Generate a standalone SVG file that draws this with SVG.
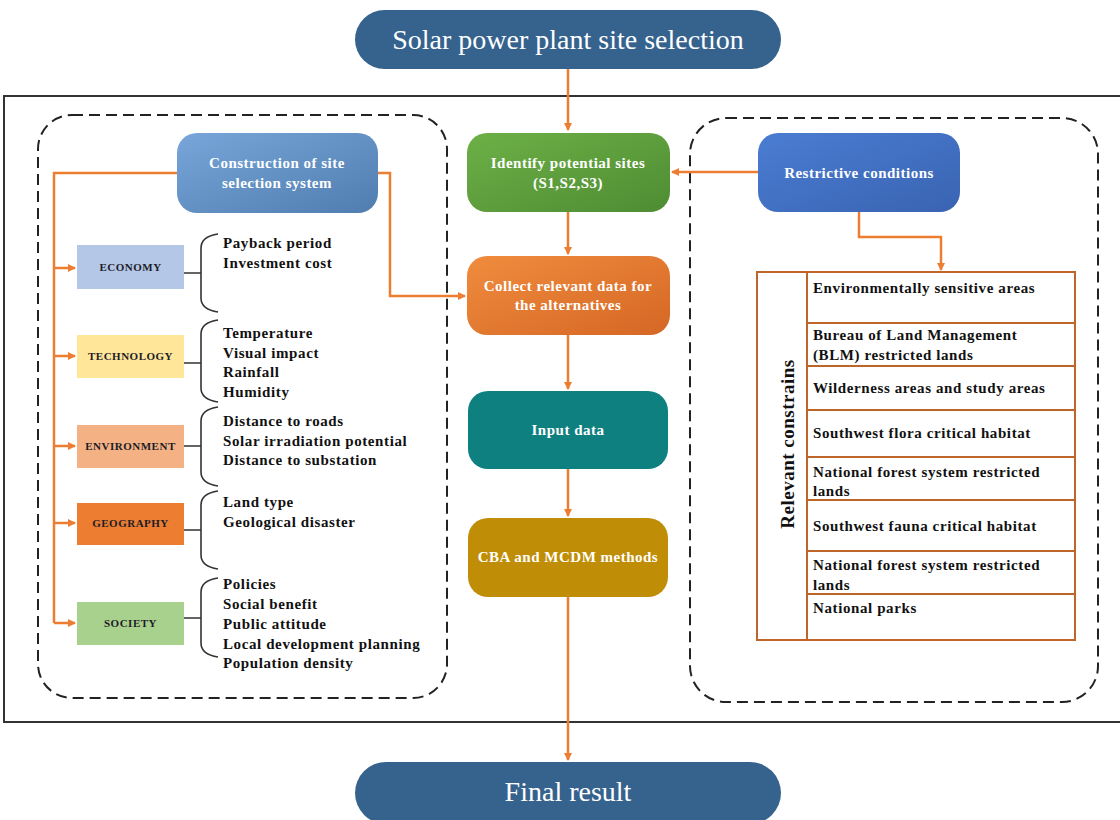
<svg xmlns="http://www.w3.org/2000/svg" width="1120" height="820" viewBox="0 0 1120 820">
<style>
.pill{fill:#36638E}
.pilltxt{font-family:"Liberation Serif","Times New Roman",serif;fill:#fff;text-anchor:middle}
.btxt{font-family:"Liberation Serif","Times New Roman",serif;font-weight:bold;font-size:15px;fill:#fff;text-anchor:middle;letter-spacing:0.5px}
.cat{font-family:"Liberation Serif","Times New Roman",serif;font-weight:bold;font-size:11px;fill:#1c1c28;text-anchor:middle;letter-spacing:0.5px}
.item{font-family:"Liberation Serif","Times New Roman",serif;font-weight:bold;font-size:15px;fill:#111;letter-spacing:0.6px}
.dash{fill:none;stroke:#222;stroke-width:2;stroke-dasharray:11 6}
.conn{fill:none;stroke:#ED7D31;stroke-width:2.5}
.brace{fill:none;stroke:#333;stroke-width:1.6}
.tbl{fill:none;stroke:#C0652A;stroke-width:2}
</style>
<defs>
<marker id="arr" markerWidth="8" markerHeight="8" refX="7" refY="4" orient="auto" markerUnits="userSpaceOnUse">
<path d="M0,0 L8,4 L0,8 Z" fill="#ED7D31"/>
</marker>
<linearGradient id="gBlue" x1="0" y1="0" x2="1" y2="1"><stop offset="0" stop-color="#78A6DA"/><stop offset="1" stop-color="#4F7DAF"/></linearGradient>
<linearGradient id="gGreen" x1="0" y1="0" x2="1" y2="1"><stop offset="0" stop-color="#6DB046"/><stop offset="1" stop-color="#4E8C33"/></linearGradient>
<linearGradient id="gOrange" x1="0" y1="0" x2="1" y2="1"><stop offset="0" stop-color="#F08C3E"/><stop offset="1" stop-color="#D56724"/></linearGradient>
<linearGradient id="gRestr" x1="0" y1="0" x2="1" y2="1"><stop offset="0" stop-color="#4A7DD2"/><stop offset="1" stop-color="#3A63B2"/></linearGradient>
</defs>
<rect width="1120" height="820" fill="#fff"/>

<!-- outer frame -->
<rect x="4" y="96" width="1130" height="626" fill="none" stroke="#333" stroke-width="2"/>
<!-- dashed groups -->
<rect class="dash" x="38" y="115" width="409" height="583" rx="34"/>
<rect class="dash" x="690" y="118" width="408" height="584" rx="36"/>

<g id="connectors">
<path class="conn" d="M568,69 V130" marker-end="url(#arr)"/>
<path class="conn" d="M568,212 V254" marker-end="url(#arr)"/>
<path class="conn" d="M568,335 V389" marker-end="url(#arr)"/>
<path class="conn" d="M568,469 V516" marker-end="url(#arr)"/>
<path class="conn" d="M568,597 V760" marker-end="url(#arr)"/>
<path class="conn" d="M758,172 H672" marker-end="url(#arr)"/>
<path class="conn" d="M859,212 V237 H941 V270" marker-end="url(#arr)"/>
<path class="conn" d="M378,173 H390 V296 H465" marker-end="url(#arr)"/>
<path class="conn" d="M177,173 H54 V623"/>
<path class="conn" d="M54,268 H75" marker-end="url(#arr)"/>
<path class="conn" d="M54,356 H75" marker-end="url(#arr)"/>
<path class="conn" d="M54,446 H75" marker-end="url(#arr)"/>
<path class="conn" d="M54,523 H75" marker-end="url(#arr)"/>
<path class="conn" d="M54,623 H75" marker-end="url(#arr)"/>
</g>

<g id="n-top">
<rect class="pill" x="355" y="10" width="426" height="59" rx="29.5"/>
<text class="pilltxt" x="568" y="49" font-size="28">Solar power plant site selection</text>
</g>

<g id="n-final">
<rect class="pill" x="355" y="762" width="426" height="62" rx="31"/>
<text class="pilltxt" x="568" y="801" font-size="28">Final result</text>
</g>

<g id="n-construction">
<rect x="177" y="133" width="201" height="80" rx="20" fill="url(#gBlue)"/>
<text class="btxt" x="277" y="168">Construction of site</text>
<text class="btxt" x="277" y="188">selection system</text>
</g>

<g id="n-identify">
<rect x="467" y="133" width="203" height="79" rx="20" fill="url(#gGreen)"/>
<text class="btxt" x="568" y="168">Identify potential sites</text>
<text class="btxt" x="568" y="188">(S1,S2,S3)</text>
</g>

<g id="n-collect">
<rect x="467" y="256" width="203" height="79" rx="20" fill="url(#gOrange)"/>
<text class="btxt" x="568" y="291">Collect relevant data for</text>
<text class="btxt" x="568" y="310">the alternatives</text>
</g>

<g id="n-input">
<rect x="468" y="391" width="200" height="78" rx="20" fill="#0F8080"/>
<text class="btxt" x="568" y="435">Input data</text>
</g>

<g id="n-cba">
<rect x="468" y="518" width="200" height="79" rx="20" fill="#C08E06"/>
<text class="btxt" x="568" y="562">CBA and MCDM methods</text>
</g>

<g id="n-restrictive">
<rect x="758" y="133" width="202" height="79" rx="20" fill="url(#gRestr)"/>
<text class="btxt" x="859" y="178">Restrictive conditions</text>
</g>

<g id="n-economy">
<rect x="77" y="245" width="107" height="44" fill="#B4C7E7"/>
<text class="cat" x="130.5" y="271">ECONOMY</text>
<path class="brace" d="M184,273 H201 M218,234 C205,236 201,242 201,248 L201,298 C201,304 205,310 218,312"/>
<text class="item" x="223" y="248">Payback period</text>
<text class="item" x="223" y="268">Investment cost</text>
</g>

<g id="n-technology">
<rect x="77" y="335" width="107" height="43" fill="#FFE699"/>
<text class="cat" x="130.5" y="360">TECHNOLOGY</text>
<path class="brace" d="M184,363 H201 M218,320 C205,322 201,328 201,334 L201,388 C201,394 205,400 218,402"/>
<text class="item" x="223" y="338">Temperature</text>
<text class="item" x="223" y="358">Visual impact</text>
<text class="item" x="223" y="377">Rainfall</text>
<text class="item" x="223" y="397">Humidity</text>
</g>

<g id="n-environment">
<rect x="77" y="425" width="107" height="43" fill="#F4B183"/>
<text class="cat" x="130.5" y="450">ENVIRONMENT</text>
<path class="brace" d="M184,446 H201 M218,407 C205,409 201,415 201,421 L201,472 C201,478 205,484 218,486"/>
<text class="item" x="223" y="426">Distance to roads</text>
<text class="item" x="223" y="446">Solar irradiation potential</text>
<text class="item" x="223" y="465">Distance to substation</text>
</g>

<g id="n-geography">
<rect x="77" y="503" width="107" height="42" fill="#ED7D31"/>
<text class="cat" x="130.5" y="527">GEOGRAPHY</text>
<path class="brace" d="M184,530 H201 M218,491 C205,493 201,499 201,505 L201,555 C201,561 205,567 218,569"/>
<text class="item" x="223" y="507">Land type</text>
<text class="item" x="223" y="527">Geological disaster</text>
</g>

<g id="n-society">
<rect x="77" y="602" width="107" height="43" fill="#A9D18E"/>
<text class="cat" x="130.5" y="627">SOCIETY</text>
<path class="brace" d="M184,618 H201 M218,578 C205,580 201,586 201,592 L201,643 C201,649 205,655 218,657"/>
<text class="item" x="223" y="589">Policies</text>
<text class="item" x="223" y="609">Social benefit</text>
<text class="item" x="223" y="629">Public attitude</text>
<text class="item" x="223" y="649">Local development planning</text>
<text class="item" x="223" y="668">Population density</text>
</g>

<g id="n-constraints">
<rect class="tbl" x="757" y="272" width="318" height="368"/>
<path class="tbl" d="M807,272 V640 M807,323 H1075 M807,366 H1075 M807,410 H1075 M807,457 H1075 M807,500 H1075 M807,551 H1075 M807,594 H1075"/>
<text font-family="Liberation Serif, Times New Roman, serif" font-weight="bold" font-size="19" fill="#111" text-anchor="middle" letter-spacing="0.5" transform="translate(794,444) rotate(-90)">Relevant constrains</text>
<text class="item" x="813" y="293">Environmentally sensitive areas</text>
<text class="item" x="813" y="340">Bureau of Land Management</text>
<text class="item" x="813" y="360">(BLM) restricted lands</text>
<text class="item" x="813" y="393">Wilderness areas and study areas</text>
<text class="item" x="813" y="438">Southwest flora critical habitat</text>
<text class="item" x="813" y="477">National forest system restricted</text>
<text class="item" x="813" y="496">lands</text>
<text class="item" x="813" y="531">Southwest fauna critical habitat</text>
<text class="item" x="813" y="570">National forest system restricted</text>
<text class="item" x="813" y="590">lands</text>
<text class="item" x="813" y="613">National parks</text>
</g>
</svg>
